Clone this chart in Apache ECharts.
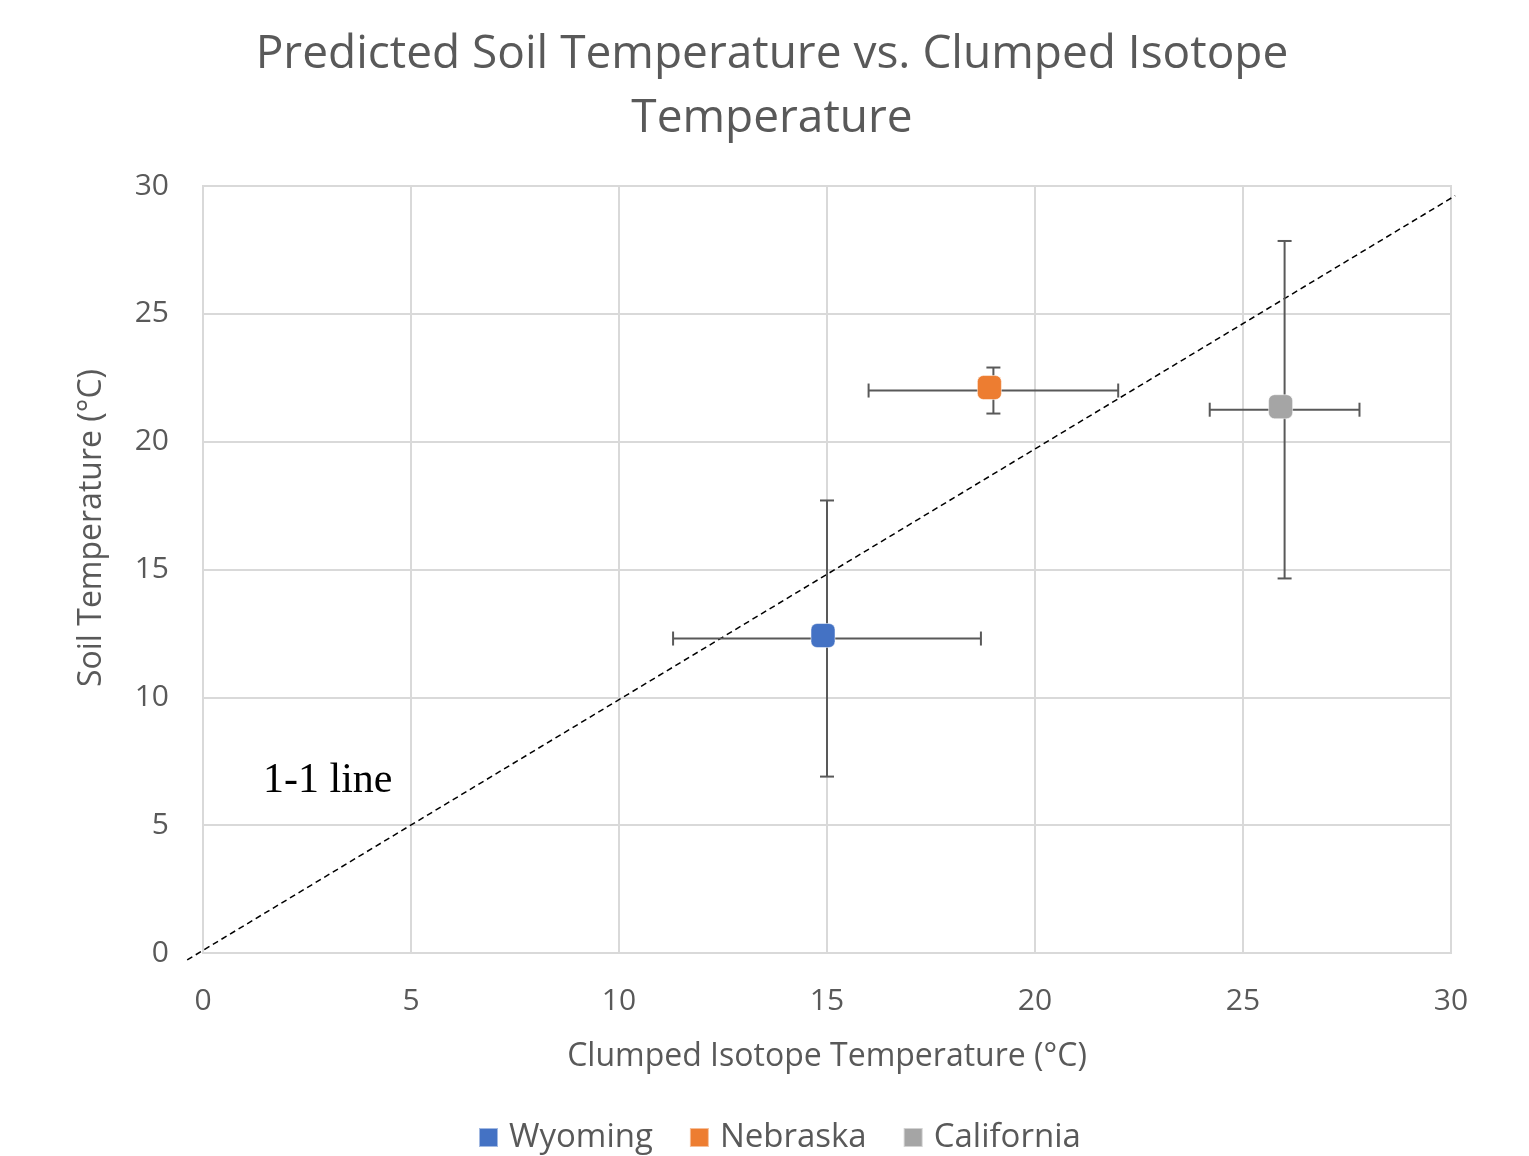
<!DOCTYPE html>
<html>
<head>
<meta charset="utf-8">
<script src="https://cdn.jsdelivr.net/npm/echarts@6/dist/echarts.min.js"></script>
<style>
  html, body { margin: 0; padding: 0; background: #fff; }
  #chart { width: 1529px; height: 1156px; }
</style>
</head>
<body>
<div id="chart"></div>
<script>
// sites and their values
const sites = ['Wyoming', 'Nebraska', 'California']
const colors = ['#4472C4', '#ED7D31', '#A5A5A5']
const isotopeTemp = [15.0, 19.0, 26.0]   // x
const soilTemp = [12.3, 22.0, 21.25]     // y
const isotopeErr = [3.7, 3.0, 1.8]       // +/- x
const soilErr = [5.4, 0.9, 6.6]          // +/- y
const axisTicks = [0, 5, 10, 15, 20, 25, 30]
const oneToOne = [[-0.38, -0.27], [30.1, 29.62]]

const chart = echarts.init(document.getElementById('chart'))

const font = '"Open Sans", sans-serif'
const grey = '#595959'

// error bars drawn with a custom series
const errorBarItem = (params, api) => {
  const x = api.value(0)
  const y = api.value(1)
  const ex = api.value(2)
  const ey = api.value(3)
  const cap = 7
  const l = api.coord([x - ex, y])
  const r = api.coord([x + ex, y])
  const t = api.coord([x, y + ey])
  const b = api.coord([x, y - ey])
  const style = { stroke: '#595959', lineWidth: 2 }
  return {
    type: 'group',
    children: [
      { type: 'line', shape: { x1: l[0], y1: l[1], x2: r[0], y2: r[1] }, style },
      { type: 'line', shape: { x1: l[0], y1: l[1] - cap, x2: l[0], y2: l[1] + cap }, style },
      { type: 'line', shape: { x1: r[0], y1: r[1] - cap, x2: r[0], y2: r[1] + cap }, style },
      { type: 'line', shape: { x1: t[0], y1: t[1], x2: b[0], y2: b[1] }, style },
      { type: 'line', shape: { x1: t[0] - cap, y1: t[1], x2: t[0] + cap, y2: t[1] }, style },
      { type: 'line', shape: { x1: b[0] - cap, y1: b[1], x2: b[0] + cap, y2: b[1] }, style }
    ]
  }
}

// the 1-1 line runs a little past the plot frame, so draw it unclipped
const oneToOneItem = (params, api) => {
  if (params.dataIndex > 0) return null
  const a = api.coord(oneToOne[0])
  const b = api.coord(oneToOne[1])
  return {
    type: 'line',
    shape: { x1: a[0], y1: a[1], x2: b[0], y2: b[1] },
    style: { stroke: '#000', lineWidth: 1.5, lineDash: [6, 4] }
  }
}

const series = [
  {
    name: '1-1 line',
    type: 'custom',
    renderItem: oneToOneItem,
    data: oneToOne,
    clip: false,
    silent: true,
    z: 1
  },
  {
    name: 'errors',
    type: 'custom',
    renderItem: errorBarItem,
    data: sites.map((s, i) => [isotopeTemp[i], soilTemp[i], isotopeErr[i], soilErr[i]]),
    silent: true,
    z: 2
  }
]

sites.forEach((s, i) => {
  series.push({
    name: s,
    type: 'scatter',
    data: [[isotopeTemp[i], soilTemp[i]]],
    symbol: 'roundRect',
    symbolSize: 24,
    symbolOffset: [-4, -3],
    itemStyle: { color: colors[i], opacity: 1, borderColor: 'rgba(255,255,255,0.5)', borderWidth: 1 },
    z: 3
  })
})

const option = {
  backgroundColor: '#fff',
  animation: false,
  title: {
    text: 'Predicted Soil Temperature vs. Clumped Isotope\nTemperature',
    left: 767,
    textAlign: 'center',
    top: 18,
    textStyle: {
      fontFamily: font,
      fontSize: 46,
      fontWeight: 'normal',
      color: grey,
      lineHeight: 64
    }
  },
  legend: {
    data: sites,
    top: 1116,
    left: 473,
    padding: 5,
    itemWidth: 19,
    itemHeight: 19,
    itemGap: 36,
    icon: 'rect',
    itemStyle: { opacity: 1 },
    textStyle: { fontFamily: font, fontSize: 33, color: grey, padding: [0, 0, 0, 6] }
  },
  grid: { left: 203, right: 78, top: 186, bottom: 203 },
  xAxis: {
    type: 'value',
    min: 0,
    max: 30,
    interval: 5,
    name: 'Clumped Isotope Temperature (°C)',
    nameLocation: 'middle',
    nameGap: 88,
    nameTextStyle: { fontFamily: font, fontSize: 32, color: grey },
    axisLine: { show: true, lineStyle: { color: '#d9d9d9', width: 2 } },
    axisTick: { show: false },
    axisLabel: {
      fontFamily: font, fontSize: 30, color: grey, margin: 33,
      formatter: v => axisTicks.includes(v) ? String(v) : ''
    },
    splitLine: { show: true, lineStyle: { color: '#d9d9d9', width: 2 } }
  },
  yAxis: {
    type: 'value',
    min: 0,
    max: 30,
    interval: 5,
    axisLine: { show: true, lineStyle: { color: '#d9d9d9', width: 2 } },
    axisTick: { show: false },
    axisLabel: {
      fontFamily: font, fontSize: 30, color: grey, margin: 34,
      formatter: v => axisTicks.includes(v) ? String(v) : ''
    },
    splitLine: { show: true, lineStyle: { color: '#d9d9d9', width: 2 } }
  },
  graphic: [
    {
      type: 'rect',
      shape: { x: 203, y: 186, width: 1248, height: 767 },
      style: { fill: 'none', stroke: '#d9d9d9', lineWidth: 2 },
      silent: true,
      z: 0
    },
    {
      type: 'text',
      x: 92,
      y: 528,
      rotation: Math.PI / 2,
      style: {
        text: 'Soil Temperature (°C)',
        font: '32px "Open Sans", sans-serif',
        fill: grey,
        align: 'center',
        verticalAlign: 'middle'
      }
    },
    {
      type: 'text',
      left: 263,
      top: 760,
      style: {
        text: '1-1 line',
        font: '42px "Liberation Serif", "DejaVu Serif", serif',
        fill: '#000'
      }
    }
  ],
  series
}

chart.setOption(option)
</script>
</body>
</html>
